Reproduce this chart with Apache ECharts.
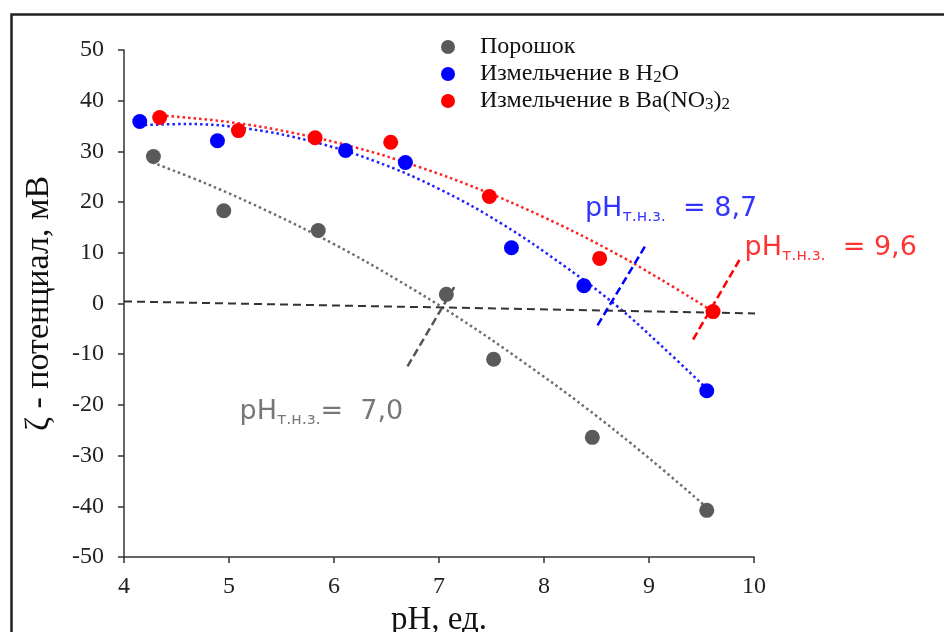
<!DOCTYPE html>
<html>
<head>
<meta charset="utf-8">
<script src="https://cdn.jsdelivr.net/npm/echarts@6/dist/echarts.min.js"></script>
<style>
  html, body { margin: 0; padding: 0; background: #fff; }
  #chart { width: 944px; height: 632px; }
</style>
</head>
<body>
<div id="chart"></div>
<script>
// Measured zeta potential vs pH, three sample preparations
const seriesNames = ['Порошок', 'Измельчение в H2O', 'Измельчение в Ba(NO3)2'];

const powderPts = [[4.28, 29.0], [4.95, 18.3], [5.85, 14.4], [7.07, 1.8], [7.52, -11.0], [8.46, -26.4], [9.55, -40.8]];
const waterPts  = [[4.15, 35.9], [4.89, 32.1], [6.11, 30.2], [6.68, 27.8], [7.69, 11.0], [8.38, 3.5], [9.55, -17.2]];
const bariumPts = [[4.34, 36.7], [5.09, 34.1], [5.82, 32.7], [6.54, 31.8], [7.48, 21.1], [8.53, 8.9], [9.61, -1.6]];

// Polynomial trend curves
const powderTrend = [[4.27, 27.8], [4.8, 23.5], [5.4, 17.9], [6.0, 11.7], [6.6, 4.7], [7.2, -3.0], [7.8, -11.5], [8.4, -20.6], [9.0, -30.5], [9.56, -40.4]];
const waterTrend  = [[4.2, 35.2], [4.6, 35.4], [5.2, 34.4], [5.8, 31.9], [6.4, 28.0], [7.0, 22.6], [7.6, 15.7], [8.2, 7.3], [8.7, -0.6], [9.1, -8.0], [9.55, -16.8]];
const bariumTrend = [[4.35, 37.1], [5.0, 35.8], [5.6, 33.7], [6.2, 30.8], [6.8, 27.0], [7.4, 22.4], [8.0, 17.0], [8.6, 10.8], [9.1, 4.9], [9.61, -1.6]];

// Baseline and isoelectric-point marker segments
const baseline   = [[4.0, 0.4], [10.13, -2.0]];
const iepPowder  = [[6.70, -12.4], [7.15, 3.4]];
const iepWater   = [[8.51, -4.3], [8.96, 11.2]];
const iepBarium  = [[9.42, -7.1], [9.87, 8.9]];

// Annotation anchors (left edge of each caption) and values
const iepLabelPos = { powder: [5.10, -21.4], water: [8.39, 18.7], barium: [9.91, 11.0] };
const iepValues = { powder: '7,0', water: '8,7', barium: '9,6' };

const xTicks = { min: 4, max: 10, step: 1 };
const yTicks = { min: -50, max: 50, step: 10 };

const colors = { powder: '#5a5a5a', water: '#0000ff', barium: '#ff0000' };
const serif = '"Liberation Serif", "Times New Roman", serif';
const sans = '"DejaVu Sans", Verdana, sans-serif';

function captionRich(color) {
  return {
    a: { fontFamily: sans, fontSize: 27, color: color, lineHeight: 32 },
    b: { fontFamily: sans, fontSize: 16, color: color, lineHeight: 6, verticalAlign: 'bottom' }
  };
}

function caption(name, text, color) {
  return {
    type: 'scatter', name: name, symbolSize: 0, silent: true, z: 5,
    data: [iepLabelPos[name]],
    label: {
      show: true, position: 'right', distance: 0, align: 'left', verticalAlign: 'middle',
      formatter: text, rich: captionRich(color)
    }
  };
}

function trend(data, color) {
  return {
    type: 'line', data: data, smooth: 0.4, showSymbol: false, silent: true, z: 2,
    lineStyle: { color: color, width: 2.5, type: [2.5, 3] }
  };
}

function segment(data, color, width, dash) {
  return {
    type: 'line', data: data, showSymbol: false, silent: true, clip: false, z: 3,
    lineStyle: { color: color, width: width, type: dash }
  };
}

function points(name, data, color) {
  return {
    type: 'scatter', name: name, data: data, symbolSize: 15, z: 10,
    itemStyle: { color: color, opacity: 1 }
  };
}

const chart = echarts.init(document.getElementById('chart'));
chart.setOption({
  animation: false,
  backgroundColor: '#fff',
  grid: { left: 124, right: 190, top: 50, bottom: 75, outerBoundsMode: 'none', containLabel: false },
  graphic: [{
    type: 'rect', left: 9, top: 12, silent: true,
    shape: { width: 1000, height: 700 },
    style: { fill: 'none', stroke: '#222', lineWidth: 2.5 }
  }],
  legend: {
    data: seriesNames,
    orient: 'vertical', left: 441, top: 35, itemGap: 3, padding: 0,
    itemWidth: 14, itemHeight: 14, icon: 'circle',
    formatter: function (n) {
      if (n === 'Измельчение в H2O') return 'Измельчение в H{s|2}O';
      if (n === 'Измельчение в Ba(NO3)2') return 'Измельчение в Ba(NO{s|3}){s|2}';
      return n;
    },
    textStyle: {
      fontFamily: serif, fontSize: 24, lineHeight: 24, color: '#111', padding: [0, 0, 0, 20],
      rich: { s: { fontFamily: serif, fontSize: 17, color: '#111', verticalAlign: 'bottom', lineHeight: 12 } }
    }
  },
  xAxis: {
    type: 'value', min: xTicks.min, max: xTicks.max, interval: xTicks.step,
    name: 'pH, ед.', nameLocation: 'middle', nameGap: 37,
    nameTextStyle: { fontFamily: serif, fontSize: 33, color: '#111' },
    axisLine: { onZero: false, lineStyle: { color: '#333', width: 1.5 } },
    axisTick: { length: 6, lineStyle: { color: '#333', width: 1.5 } },
    axisLabel: { fontFamily: serif, fontSize: 24, color: '#222', margin: 18 },
    splitLine: { show: false }
  },
  yAxis: {
    type: 'value', min: yTicks.min, max: yTicks.max, interval: yTicks.step,
    name: 'ζ - потенциал, мВ', nameLocation: 'middle', nameGap: 68,
    nameTextStyle: { fontFamily: serif, fontSize: 34, color: '#111' },
    axisLine: { onZero: false, lineStyle: { color: '#333', width: 1.5 } },
    axisTick: { length: 6, lineStyle: { color: '#333', width: 1.5 } },
    axisLabel: { fontFamily: serif, fontSize: 24, color: '#222', margin: 20 },
    splitLine: { show: false }
  },
  series: [
    segment(baseline, '#333', 2, [8, 5]),
    segment(iepPowder, '#555', 2.5, [8, 4]),
    segment(iepWater, '#0000ff', 2.5, [8, 4]),
    segment(iepBarium, '#ff0000', 2.5, [8, 4]),
    trend(powderTrend, '#6e6e6e'),
    trend(waterTrend, '#2020ff'),
    trend(bariumTrend, '#ff2020'),
    points(seriesNames[0], powderPts, colors.powder),
    points(seriesNames[1], waterPts, colors.water),
    points(seriesNames[2], bariumPts, colors.barium),
    caption('powder', '{a|pH}{b|т.н.з.}{a|=  ' + iepValues.powder + '}', '#555'),
    caption('water', '{a|pH}{b|т.н.з.}{a|  = ' + iepValues.water + '}', '#0000ff'),
    caption('barium', '{a|pH}{b|т.н.з.}{a|  = ' + iepValues.barium + '}', '#ff0000')
  ]
});
</script>
</body>
</html>
